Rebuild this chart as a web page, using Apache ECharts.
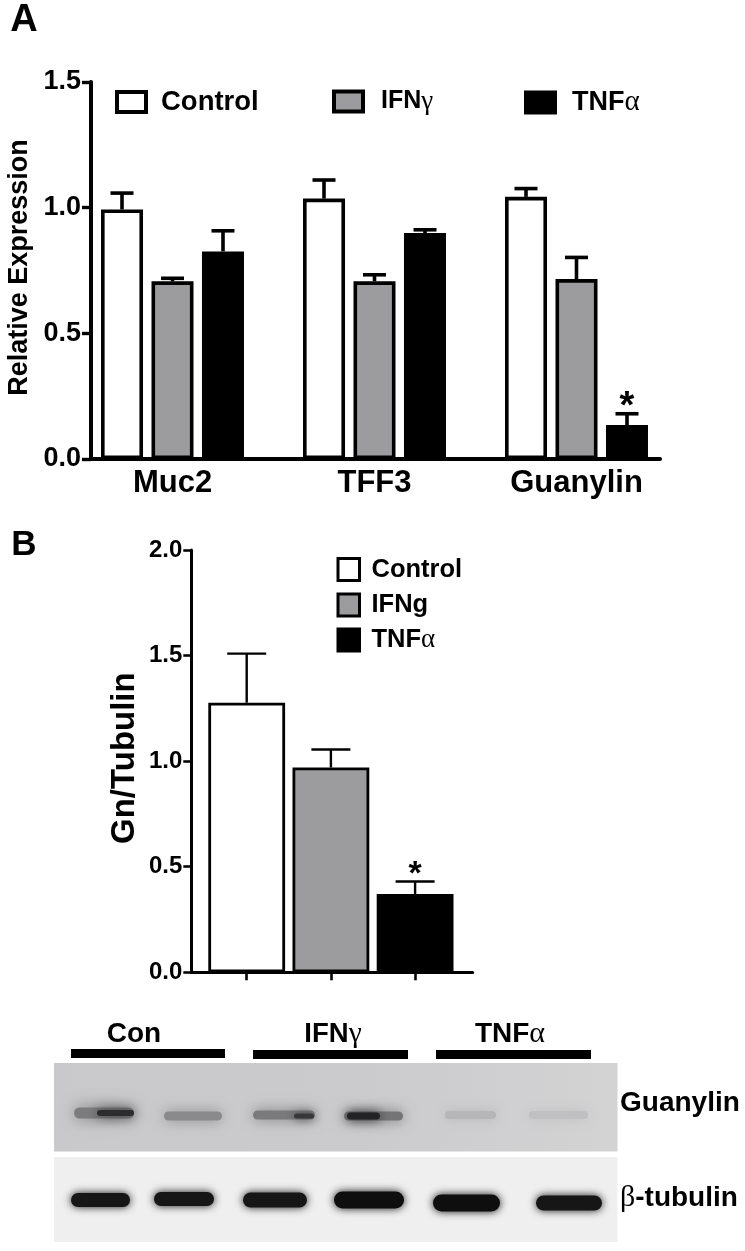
<!DOCTYPE html>
<html><head><meta charset="utf-8">
<style>html,body{margin:0;padding:0;background:#fff}#c{width:745px;height:1251px}</style>
<script src="https://cdn.jsdelivr.net/npm/echarts@6/dist/echarts.min.js"></script>
</head><body><div id="c"></div>
<script>
// ---- data ----
const categoriesA = ['Muc2', 'TFF3', 'Guanylin'];
const treatmentsA = ['Control', 'IFNγ', 'TNFα'];
const controlA = [0.993, 1.036, 1.043];
const ifnA = [0.707, 0.707, 0.716];
const tnfA = [0.826, 0.899, 0.135];
const controlAUpper = [1.058, 1.110, 1.076];
const ifnAUpper = [0.719, 0.733, 0.802];
const tnfAUpper = [0.908, 0.912, 0.180];
const starsA = [[], [], [2]];

const categoriesB = ['Control', 'IFNg', 'TNFα'];
const valuesB = [1.277, 0.970, 0.371];
const upperB = [1.509, 1.055, 0.43];
const starsB = [2];

const ticksA = [0, 0.5, 1, 1.5];
const ticksB = [0, 0.5, 1, 1.5, 2];

// ---- style ----
const FONT = '"Liberation Sans", Arial, sans-serif';
const SERIF = '"Liberation Serif", serif';
const WHITE = '#ffffff', GREY = '#9c9c9f', INK = '#000000';
const fills = [WHITE, GREY, INK];
const symbolRich = size => ({ g: { fontFamily: SERIF, fontWeight: 'normal', fontSize: size, color: INK } });
const greek = s => s.replace(/([αγβ])/g, '{g|$1}');

function errorSeries(xAxisIndex, yAxisIndex, means, uppers, offset, capW, lw, stars, starSize, starDrop) {
  return {
    type: 'custom', xAxisIndex, yAxisIndex, z: 2, clip: false, silent: true,
    data: means.map((m, i) => [i, m, uppers[i]]),
    encode: { x: 0, y: [1, 2] },
    renderItem(params, api) {
      const i = api.value(0);
      const base = api.coord([i, api.value(1)]);
      const top = api.coord([i, api.value(2)]);
      const x = base[0] + offset;
      const st = { stroke: INK, lineWidth: lw, fill: 'none' };
      const children = [
        { type: 'line', shape: { x1: x, y1: base[1], x2: x, y2: top[1] }, style: st },
        { type: 'line', shape: { x1: x - capW / 2, y1: top[1], x2: x + capW / 2, y2: top[1] }, style: st }
      ];
      if (stars.includes(i)) {
        children.push({ type: 'text', style: { text: '*', x, y: top[1] + starDrop, align: 'center', verticalAlign: 'bottom',
          fontFamily: FONT, fontWeight: 'bold', fontSize: starSize, fill: INK } });
      }
      return { type: 'group', children };
    }
  };
}

const barA = (name, values, k) => ({
  type: 'bar', name, data: values, xAxisIndex: 0, yAxisIndex: 0, z: 3,
  barWidth: 42, barGap: '20.2%',
  itemStyle: { color: fills[k], borderColor: INK, borderWidth: 3.6 }
});

const seriesA = [
  barA(treatmentsA[0], controlA, 0),
  barA(treatmentsA[1], ifnA, 1),
  barA(treatmentsA[2], tnfA, 2),
  errorSeries(0, 0, controlA, controlAUpper, -50.5, 23, 3.6, [], 34, 0),
  errorSeries(0, 0, ifnA, ifnAUpper, 0, 23, 3.6, [], 34, 0),
  errorSeries(0, 0, tnfA, tnfAUpper, 50.5, 23, 3.6, starsA[2], 38, 13)
];

const seriesB = [
  { type: 'bar', name: 'Gn/Tubulin', xAxisIndex: 2, yAxisIndex: 2, z: 3, barWidth: 76.8,
    data: valuesB.map((v, i) => ({ value: v, itemStyle: { color: fills[i] } })),
    itemStyle: { borderColor: INK, borderWidth: 2.8 } },
  errorSeries(2, 2, valuesB, upperB, 0, 39, 2.4, starsB, 34, 10)
];

// legend proxy (name only, no marks) on the frame axes so it does not affect bar layout
const proxy = n => ({ type: 'bar', name: n, data: [], xAxisIndex: 3, yAxisIndex: 3 });

const legendBase = {
  orient: 'horizontal', padding: 0, icon: 'rect', selectedMode: false,
  formatter: n => greek(n)
};
const legA = (name, k, left, pad, size) => ({
  ...legendBase, left, top: 88, itemWidth: 29, itemHeight: 20, data: [{ name,
    itemStyle: { color: fills[k], borderColor: INK, borderWidth: 4 } }],
  textStyle: { fontFamily: FONT, fontWeight: 'bold', fontSize: size, color: INK, padding: [0, 0, 0, pad], rich: symbolRich(size + 2) }
});
const legB = (name, k, top) => ({
  ...legendBase, left: 336.5, top, itemWidth: 21.5, itemHeight: 22, data: [{ name,
    itemStyle: { color: fills[k], borderColor: INK, borderWidth: 3 } }],
  textStyle: { fontFamily: FONT, fontWeight: 'bold', fontSize: 25.5, color: INK, padding: [0, 0, 0, 7], rich: symbolRich(27) }
});

// ---- decoration: western blot panels ----
const band = (x1, x2, cy, h, c, blur) => ({
  type: 'rect', shape: { x: x1, y: cy - h / 2, width: x2 - x1, height: h, r: h / 2 },
  style: { fill: c, shadowBlur: blur, shadowColor: c }, z: 5
});
const txt = (text, x, y, size, align, family) => ({
  type: 'text', z: 6, style: { text: greek(text), x, y, align: align || 'center', verticalAlign: 'middle',
    fontFamily: family || FONT, fontWeight: 'bold', fontSize: size, fill: INK, rich: symbolRich(size + 2) }
});
const bar = (x1, x2, y1, y2) => ({ type: 'rect', z: 6, shape: { x: x1, y: y1, width: x2 - x1, height: y2 - y1 }, style: { fill: '#000' } });

const graphics = [
  txt('A', 24, 21, 38), txt('B', 24, 545, 35),
  txt('Con', 134, 1034, 28), txt('IFNγ', 333, 1034, 27.5), txt('TNFα', 510, 1034, 28),
  txt('Guanylin', 620, 1103, 28, 'left'), txt('β-tubulin', 620, 1198, 28, 'left'),
  bar(71, 225, 1049, 1058), bar(253, 408, 1050, 1059), bar(436, 591, 1050, 1059),
  { type: 'rect', z: 4, shape: { x: 54, y: 1063, width: 563.5, height: 88.5 },
    style: { fill: { type: 'linear', x: 0, y: 0, x2: 1, y2: 0, colorStops: [
      { offset: 0, color: '#c9c9cb' }, { offset: 0.55, color: '#cbcbcd' }, { offset: 1, color: '#d3d3d4' }] } } },
  { type: 'rect', z: 4, shape: { x: 54, y: 1157, width: 563.5, height: 85 }, style: { fill: '#efefef' } },
  // Guanylin bands
  band(74, 134, 1113, 11, '#7c7c7f', 16), band(97, 134, 1113, 6, '#2c2c2f', 12),
  band(164, 222, 1116, 9, '#8a8a8d', 14),
  band(253, 315, 1115, 9, '#7a7a7d', 14), band(294, 314, 1116, 5, '#38383b', 10),
  band(344, 403, 1116, 9, '#747477', 14), band(347, 380, 1116, 7, '#232325', 11),
  band(445, 496, 1115, 8, '#b6b6b8', 12),
  band(529, 588, 1115, 8, '#c0c0c2', 12),
  // beta-tubulin bands
  band(71, 130, 1200, 14, '#161616', 8), band(154, 214, 1199, 14, '#161616', 8),
  band(243, 307, 1200, 15, '#161616', 8), band(334, 404, 1200, 17, '#0e0e0e', 8),
  band(433, 500, 1203, 17, '#0e0e0e', 8), band(536, 602, 1203, 15, '#161616', 8)
];

const frameY = (gridIndex, max, ticks, tickLen, lw, size, name, nameSize, nameGap, namePad) => ({
  type: 'value', gridIndex, min: 0, max, interval: 0.5,
  name, nameLocation: 'middle', nameGap,
  nameTextStyle: { fontFamily: FONT, fontWeight: 'bold', fontSize: nameSize, color: INK, padding: [0, 0, 0, namePad] },
  axisLine: { show: true, lineStyle: { color: INK, width: lw } },
  axisTick: { show: true, length: tickLen, lineStyle: { color: INK, width: lw * 0.85 } },
  axisLabel: { show: true, margin: tickLen + 1, fontFamily: FONT, fontWeight: 'bold', fontSize: size, color: INK,
    formatter: v => ticks.includes(v) ? v.toFixed(1) : '' },
  splitLine: { show: false }
});
const frameX = (gridIndex, lw) => ({
  type: 'category', gridIndex, data: [''],
  axisLine: { show: true, onZero: false, lineStyle: { color: INK, width: lw } },
  axisTick: { show: false }, axisLabel: { show: false }, splitLine: { show: false }
});
const hiddenY = (gridIndex, max) => ({ type: 'value', gridIndex, min: 0, max, show: false, splitLine: { show: false } });

const option = {
  animation: false, backgroundColor: '#fff',
  textStyle: { fontFamily: FONT },
  grid: [
    { left: 71.5, top: 82, width: 606, height: 377, outerBoundsMode: 'none' },   // panel A marks
    { left: 91, top: 82, width: 569, height: 377, outerBoundsMode: 'none' },     // panel A frame
    { left: 204.6, top: 550, width: 252.6, height: 422.3, outerBoundsMode: 'none' }, // panel B marks
    { left: 191.3, top: 550, width: 281.4, height: 422.3, outerBoundsMode: 'none' }  // panel B frame
  ],
  xAxis: [
    { type: 'category', gridIndex: 0, data: categoriesA,
      axisLine: { show: false }, axisTick: { show: false },
      axisLabel: { margin: 9, fontFamily: FONT, fontWeight: 'bold', fontSize: 31, color: INK, interval: 0 } },
    frameX(1, 4),
    { type: 'category', gridIndex: 2, data: categoriesB,
      axisLine: { show: false },
      axisTick: { show: true, alignWithLabel: true, length: 8, lineStyle: { color: INK, width: 2.6 } },
      axisLabel: { show: false } },
    frameX(3, 3)
  ],
  yAxis: [
    hiddenY(0, 1.5),
    frameY(1, 1.5, ticksA, 9, 4, 27, 'Relative Expression', 27, 58, 6),
    hiddenY(2, 2),
    frameY(3, 2, ticksB, 8, 3, 24, 'Gn/Tubulin', 33, 50, 6)
  ],
  legend: [
    legA('Control', 0, 115, 10, 27.5),
    legA('IFNγ', 1, 332, 13, 25),
    legA('TNFα', 2, 524, 12, 27),
    legB('Control', 0, 556.5),
    legB('IFNg', 1, 592),
    legB('TNFα', 2, 626.5)
  ],
  series: [...seriesA, ...seriesB, proxy('IFNg')],
  graphic: { elements: graphics }
};
const chart = echarts.init(document.getElementById('c'), null, { renderer: 'canvas' });
chart.setOption(option);
</script>
</body></html>
